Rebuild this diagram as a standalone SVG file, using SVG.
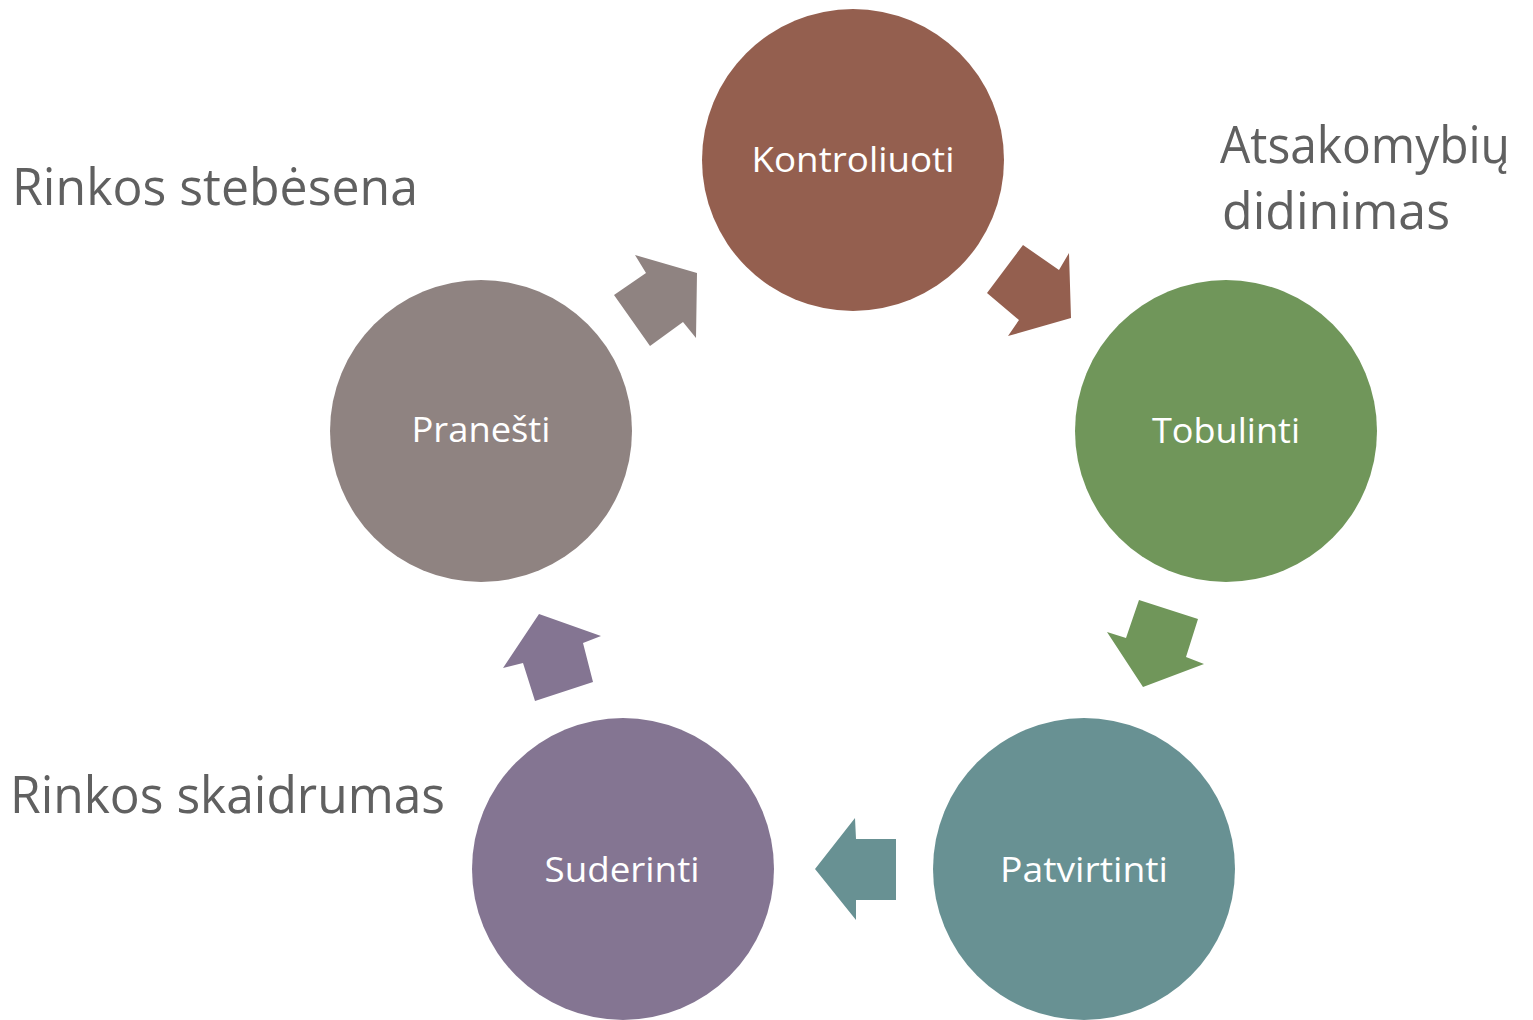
<svg xmlns="http://www.w3.org/2000/svg" width="1533" height="1020" viewBox="0 0 1533 1020">
<style>
.lbl{font-family:"Open Sans","Noto Sans","Liberation Sans",sans-serif;font-size:35px;fill:#ffffff;text-anchor:middle}
.side{font-family:"Open Sans","Noto Sans","Liberation Sans",sans-serif;font-size:52px;fill:#606060}
</style>
<rect width="1533" height="1020" fill="#ffffff"/>
<g id="connectors">
<polygon fill="#945F4F" points="1023,245 1059,270 1069,253 1071,318 1008,336 1019,320 987,293"/>
<polygon fill="#70965A" points="1139,600 1198,619 1186,657 1204,664 1143,687 1107,632 1126,638"/>
<polygon fill="#689193" points="896,839 896,900 856,900 856,920 815,869 855,818 856,839"/>
<polygon fill="#847592" points="539,614 601,636 583,643 593,682 535,701 523,663 503,668"/>
<polygon fill="#8F8381" points="635,255 697,273 696,338 683,322 650,346 614,295 646,273"/>
</g>
<g id="kontroliuoti">
<circle cx="853" cy="160" r="151" fill="#945F4F"/>
<text class="lbl" x="853" y="172" textLength="203" lengthAdjust="spacingAndGlyphs">Kontroliuoti</text>
</g>
<g id="tobulinti">
<circle cx="1226" cy="431" r="151" fill="#70965A"/>
<text class="lbl" x="1226" y="443" textLength="148" lengthAdjust="spacingAndGlyphs">Tobulinti</text>
</g>
<g id="patvirtinti">
<circle cx="1084" cy="869" r="151" fill="#689193"/>
<text class="lbl" x="1084" y="882" textLength="168" lengthAdjust="spacingAndGlyphs">Patvirtinti</text>
</g>
<g id="suderinti">
<circle cx="623" cy="869" r="151" fill="#847592"/>
<text class="lbl" x="622" y="882" textLength="155" lengthAdjust="spacingAndGlyphs">Suderinti</text>
</g>
<g id="pranesti">
<circle cx="481" cy="431" r="151" fill="#8F8381"/>
<text class="lbl" x="481" y="442" textLength="139" lengthAdjust="spacingAndGlyphs">Pranešti</text>
</g>
<g id="side-labels">
<text class="side" x="1220" y="163" font-size="48" textLength="290" lengthAdjust="spacingAndGlyphs">Atsakomybių</text>
<text class="side" x="12" y="205" textLength="406" lengthAdjust="spacingAndGlyphs">Rinkos stebėsena</text>
<text class="side" x="1222" y="229" textLength="228" lengthAdjust="spacingAndGlyphs">didinimas</text>
<text class="side" x="10" y="813" textLength="435" lengthAdjust="spacingAndGlyphs">Rinkos skaidrumas</text>
</g>
</svg>
